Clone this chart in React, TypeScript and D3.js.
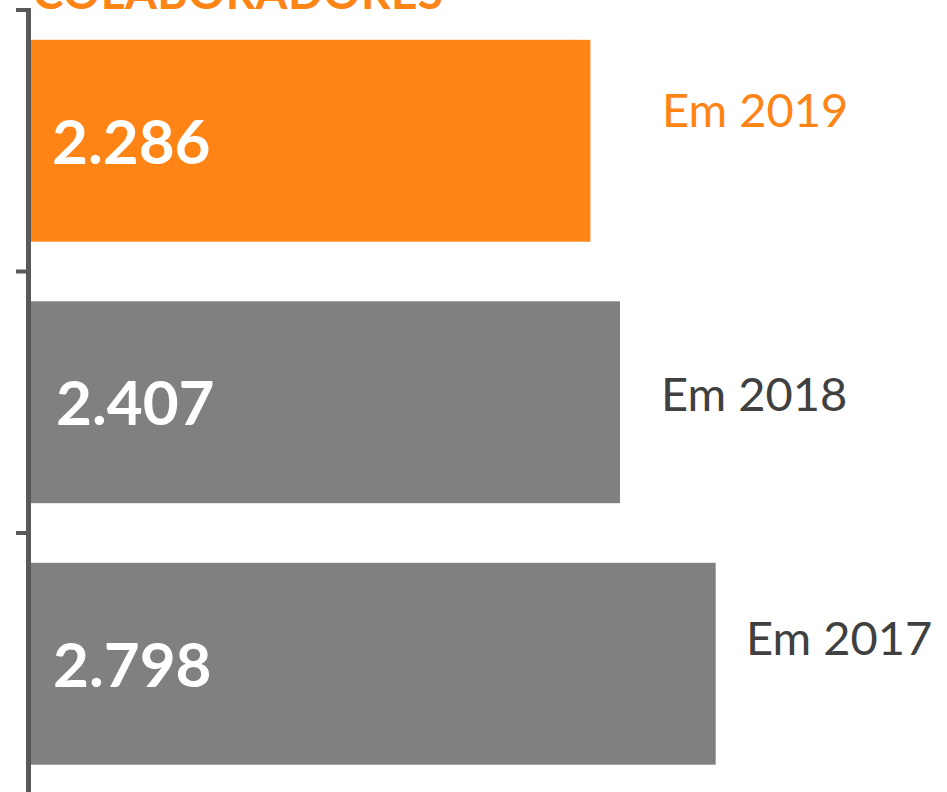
import React from "react";
import * as d3 from "d3";

const years = ["2019", "2018", "2017"];
const values = [2286, 2407, 2798];
const valueLabels = ["2.286", "2.407", "2.798"];
const yearLabels = ["Em 2019", "Em 2018", "Em 2017"];
const title = "COLABORADORES";

const W = 947;
const H = 792;
const FONT = "Lato, 'Open Sans', sans-serif";
const ORANGE = "#FF8416";
const GRAY = "#808080";
const AXIS = "#595959";

// label layout (px): x start and baseline offset from band center
const labelLayout = [
  { x: 662, dy: -14 },
  { x: 661, dy: 9 },
  { x: 746, dy: -9 },
];
const valueLabelX = [52, 56, 53];

export default function App() {
  const y = d3
    .scaleBand<string>()
    .domain(years)
    .range([10, 794.5])
    .paddingInner(0.228)
    .paddingOuter(0.114);
  const x = d3.scaleLinear().domain([0, 3000]).range([31, 31 + 0.2447 * 3000]);
  const step = (794.5 - 10) / 3;
  const ticks = [0, 1, 2, 3].map((i) => 10 + i * step);

  return (
    <svg
      width={W}
      height={H}
      style={{ position: "absolute", left: 0, top: 0, display: "block", background: "#fff" }}
    >
      <text
        x={33}
        y={9}
        fill={ORANGE}
        fontFamily={FONT}
        fontWeight={700}
        fontSize={46}
        textLength={410}
        lengthAdjust="spacing"
      >
        {title}
      </text>
      {years.map((yr, i) => {
        const by = y(yr)!;
        const bh = y.bandwidth();
        const cy = by + bh / 2;
        return (
          <g key={yr}>
            <rect
              x={x(0)}
              y={by}
              width={x(values[i]) - x(0)}
              height={bh}
              fill={i === 0 ? ORANGE : GRAY}
            />
            <text
              x={valueLabelX[i]}
              y={cy + 23}
              fill="#fff"
              fontFamily={FONT}
              fontWeight={700}
              fontSize={62}
            >
              {valueLabels[i]}
            </text>
            <text
              x={labelLayout[i].x}
              y={cy + labelLayout[i].dy}
              fill={i === 0 ? ORANGE : "#404040"}
              fontFamily={FONT}
              fontSize={47}
            >
              {yearLabels[i]}
            </text>
          </g>
        );
      })}
      <line x1={28.5} x2={28.5} y1={8} y2={H} stroke={AXIS} strokeWidth={5} />
      {ticks.map((t, i) => (
        <line key={i} x1={16} x2={28} y1={t} y2={t} stroke={AXIS} strokeWidth={4} />
      ))}
    </svg>
  );
}
